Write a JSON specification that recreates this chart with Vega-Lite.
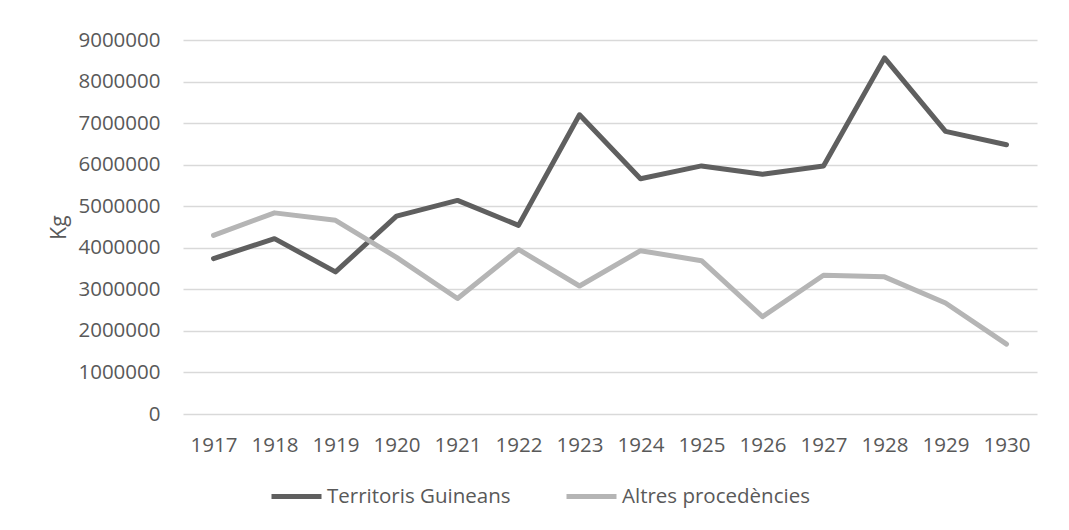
{
  "$schema": "https://vega.github.io/schema/vega-lite/v6.json",
  "width": 854,
  "height": 374,
  "autosize": {"type": "none"},
  "padding": {"left": 183, "top": 40, "right": 32, "bottom": 116},
  "background": "white",
  "data": {
    "values": [
      {"year": "1917", "series": "Territoris Guineans", "kg": 3740000},
      {"year": "1918", "series": "Territoris Guineans", "kg": 4220000},
      {"year": "1919", "series": "Territoris Guineans", "kg": 3420000},
      {"year": "1920", "series": "Territoris Guineans", "kg": 4760000},
      {"year": "1921", "series": "Territoris Guineans", "kg": 5140000},
      {"year": "1922", "series": "Territoris Guineans", "kg": 4540000},
      {"year": "1923", "series": "Territoris Guineans", "kg": 7200000},
      {"year": "1924", "series": "Territoris Guineans", "kg": 5660000},
      {"year": "1925", "series": "Territoris Guineans", "kg": 5970000},
      {"year": "1926", "series": "Territoris Guineans", "kg": 5770000},
      {"year": "1927", "series": "Territoris Guineans", "kg": 5970000},
      {"year": "1928", "series": "Territoris Guineans", "kg": 8570000},
      {"year": "1929", "series": "Territoris Guineans", "kg": 6800000},
      {"year": "1930", "series": "Territoris Guineans", "kg": 6480000},
      {"year": "1917", "series": "Altres procedències", "kg": 4300000},
      {"year": "1918", "series": "Altres procedències", "kg": 4840000},
      {"year": "1919", "series": "Altres procedències", "kg": 4660000},
      {"year": "1920", "series": "Altres procedències", "kg": 3770000},
      {"year": "1921", "series": "Altres procedències", "kg": 2780000},
      {"year": "1922", "series": "Altres procedències", "kg": 3960000},
      {"year": "1923", "series": "Altres procedències", "kg": 3080000},
      {"year": "1924", "series": "Altres procedències", "kg": 3930000},
      {"year": "1925", "series": "Altres procedències", "kg": 3690000},
      {"year": "1926", "series": "Altres procedències", "kg": 2340000},
      {"year": "1927", "series": "Altres procedències", "kg": 3340000},
      {"year": "1928", "series": "Altres procedències", "kg": 3300000},
      {"year": "1929", "series": "Altres procedències", "kg": 2670000},
      {"year": "1930", "series": "Altres procedències", "kg": 1680000}
    ]
  },
  "mark": {"type": "line", "strokeWidth": 5, "strokeCap": "round", "strokeJoin": "round"},
  "encoding": {
    "x": {
      "field": "year", "type": "ordinal", "title": null,
      "scale": {"type": "point", "padding": 0.5},
      "axis": {"labelAngle": 0, "ticks": false, "domain": false, "labelPadding": 21, "grid": false}
    },
    "y": {
      "field": "kg", "type": "quantitative", "title": "Kg",
      "scale": {"domain": [0, 9000000], "nice": false},
      "axis": {"values": [0,1000000,2000000,3000000,4000000,5000000,6000000,7000000,8000000,9000000], "format": "d", "ticks": false, "domain": false, "labelPadding": 23, "titlePadding": 8, "gridColor": "#d9d9d9", "gridWidth": 1.5}
    },
    "color": {
      "field": "series", "type": "nominal",
      "scale": {"domain": ["Territoris Guineans", "Altres procedències"], "range": ["#5f5f5f", "#b5b5b5"]},
      "legend": {"title": null, "orient": "none", "legendX": 86, "legendY": 429, "direction": "horizontal", "symbolType": "stroke", "symbolSize": 2500, "symbolStrokeWidth": 5, "columnPadding": 45, "labelOffset": 3, "labelLimit": 400}
    }
  },
  "config": {
    "font": "Open Sans",
    "view": {"stroke": null},
    "axis": {"labelFont": "Open Sans", "labelFontSize": 20.5, "labelColor": "#595959", "titleFont": "Open Sans", "titleFontSize": 21, "titleColor": "#595959", "titleFontWeight": "normal"},
    "legend": {"labelFont": "Open Sans", "labelFontSize": 20.5, "labelColor": "#595959"}
  }
}
